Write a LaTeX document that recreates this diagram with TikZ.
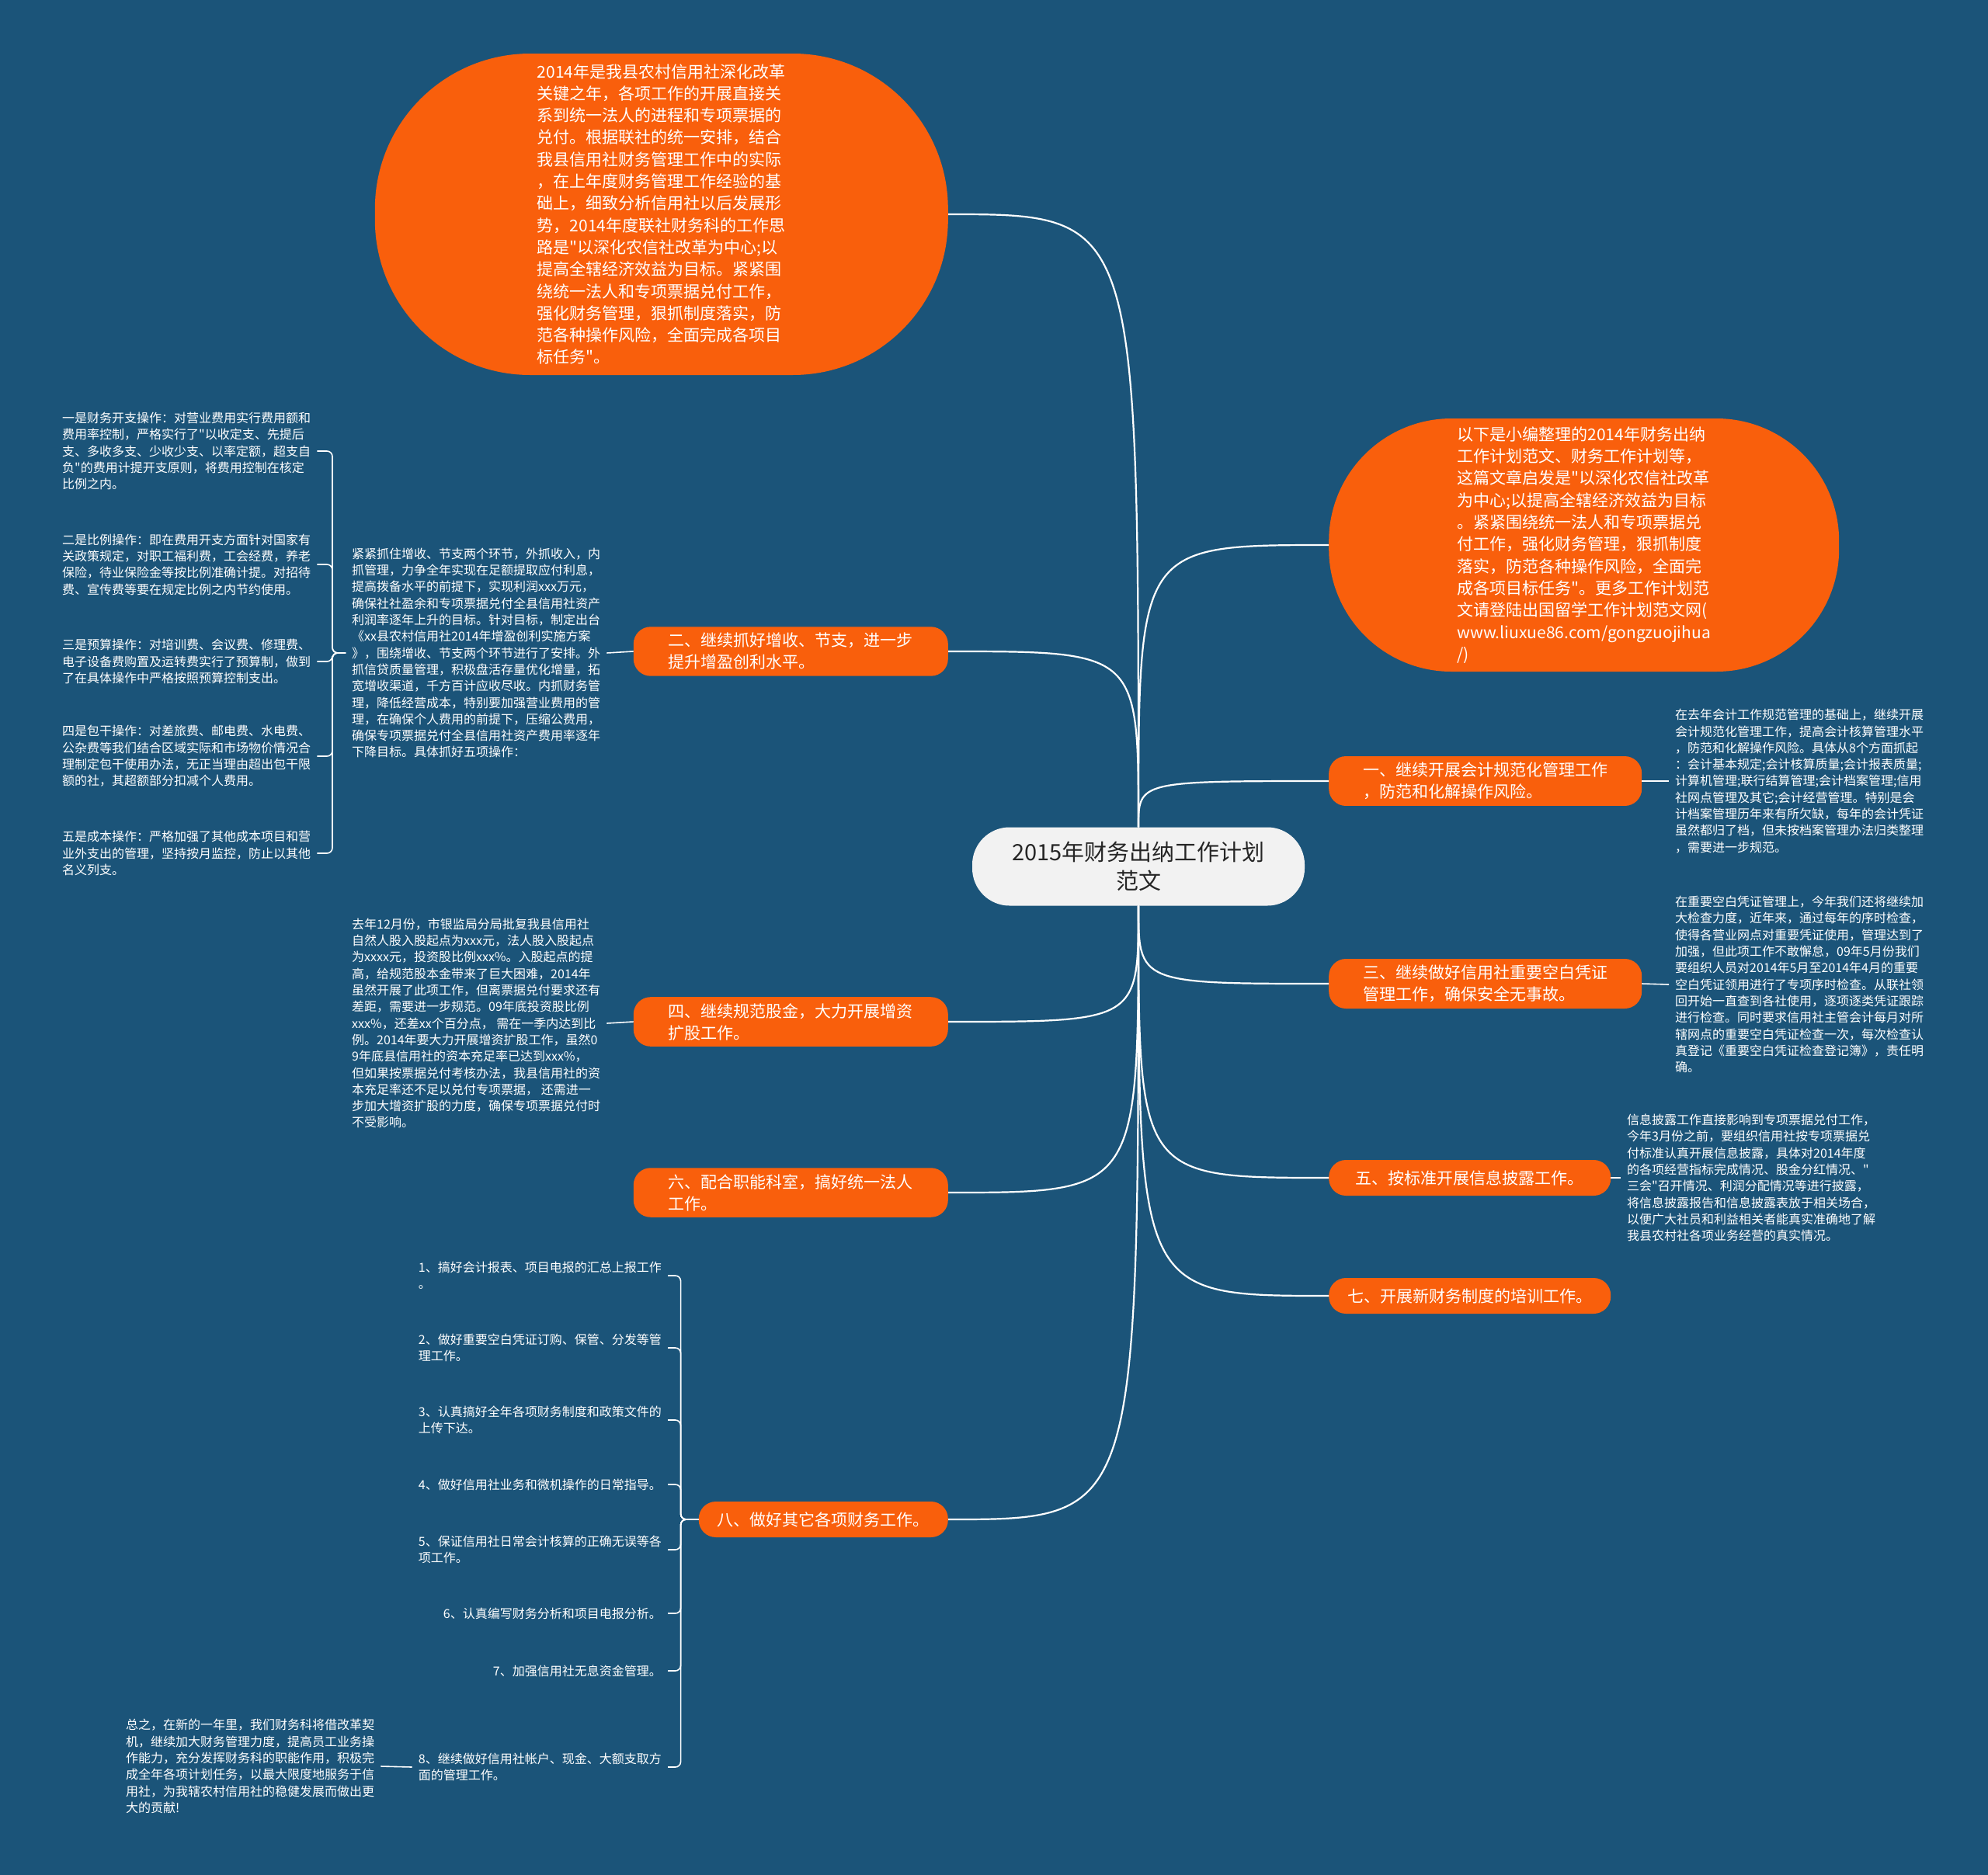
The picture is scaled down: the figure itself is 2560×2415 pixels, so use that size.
\documentclass[tikz,border=0pt]{standalone}
\usepackage{fontspec}
\setmainfont{Noto Sans CJK SC}[Ligatures=TeXOff]
\usepackage{tikz}
\usetikzlibrary{calc}
\usepackage{xcolor}

\definecolor{fondo}{HTML}{1B5479}
\definecolor{naranja}{HTML}{F95F0C}
\definecolor{gris}{HTML}{F2F2F2}

\tikzset{
  raiz/.style={fill=gris, text=black!85, rounded corners=48pt, align=center,
    minimum width=428pt, minimum height=101pt, font=\fontsize{29pt}{37pt}\selectfont},
  globo/.style={fill=naranja, text=white, align=left, font=\fontsize{21pt}{28.3pt}\selectfont},
  ramo/.style={fill=naranja, text=white, rounded corners=22pt, align=left, inner xsep=24pt,
    inner ysep=8pt, minimum height=46pt, font=\fontsize{21pt}{28pt}\selectfont},
  hojatexto/.style={text=white, align=left, inner xsep=8pt, inner ysep=3pt,
    font=\fontsize{16pt}{21.3pt}\selectfont},
  enlace/.style={draw=white, line width=2.2pt},
  hoja/.style={draw=white, line width=1.6pt},
  llave/.style={draw=white, line width=1.6pt, rounded corners=7pt}
}

\begin{document}
\begin{tikzpicture}[x=1pt,y=-1pt]
  \useasboundingbox (0,0) rectangle (2560,2415);
  \fill[fondo] (0,0) rectangle (2560,2415);

  % Nodo central
  \node[raiz] (root) at (1466,1116) {2015年财务出纳工作计划\\范文};

  % Globos grandes
  \node[globo, minimum width=738pt, minimum height=414pt, rounded corners=200pt, anchor=east] (top) at (1221,276)
    {2014年是我县农村信用社深化改革\\关键之年，各项工作的开展直接关\\系到统一法人的进程和专项票据的\\兑付。根据联社的统一安排，结合\\我县信用社财务管理工作中的实际\\，在上年度财务管理工作经验的基\\础上，细致分析信用社以后发展形\\势，2014年度联社财务科的工作思\\路是"以深化农信社改革为中心;以\\提高全辖经济效益为目标。紧紧围\\绕统一法人和专项票据兑付工作，\\强化财务管理，狠抓制度落实，防\\范各种操作风险，全面完成各项目\\标任务"。};
  \node[globo, minimum width=657pt, minimum height=326pt, rounded corners=158pt, anchor=west] (intro) at (1711,702)
    {以下是小编整理的2014年财务出纳\\工作计划范文、财务工作计划等，\\这篇文章启发是"以深化农信社改革\\为中心;以提高全辖经济效益为目标\\。紧紧围绕统一法人和专项票据兑\\付工作，强化财务管理，狠抓制度\\落实，防范各种操作风险，全面完\\成各项目标任务"。更多工作计划范\\文请登陆出国留学工作计划范文网(\\www.liuxue86.com/gongzuojihua\\/)};

  % Ramas izquierda
  \node[ramo, minimum width=405pt, anchor=east] (b2) at (1221,839) {二、继续抓好增收、节支，进一步\\提升增盈创利水平。};
  \node[ramo, minimum width=405pt, anchor=east] (b4) at (1221,1316) {四、继续规范股金，大力开展增资\\扩股工作。};
  \node[ramo, minimum width=405pt, anchor=east] (b6) at (1221,1536) {六、配合职能科室，搞好统一法人\\工作。};
  \node[ramo, anchor=east] (b8) at (1221,1957) {八、做好其它各项财务工作。};

  % Ramas derecha
  \node[ramo, minimum width=403pt, anchor=west] (b1) at (1711,1006) {一、继续开展会计规范化管理工作\\，防范和化解操作风险。};
  \node[ramo, minimum width=403pt, anchor=west] (b3) at (1711,1267) {三、继续做好信用社重要空白凭证\\管理工作，确保安全无事故。};
  \node[ramo, minimum width=363pt, anchor=west] (b5) at (1711,1517) {五、按标准开展信息披露工作。};
  \node[ramo, anchor=west] (b7) at (1711,1669) {七、开展新财务制度的培训工作。};

  % Textos de la rama dos
  \node[hojatexto, anchor=west] (jin) at (445,841)
    {紧紧抓住增收、节支两个环节，外抓收入，内\\抓管理，力争全年实现在足额提取应付利息，\\提高拨备水平的前提下，实现利润xxx万元，\\确保社社盈余和专项票据兑付全县信用社资产\\利润率逐年上升的目标。针对目标，制定出台\\《xx县农村信用社2014年增盈创利实施方案\\》，围绕增收、节支两个环节进行了安排。外\\抓信贷质量管理，积极盘活存量优化增量，拓\\宽增收渠道，千方百计应收尽收。内抓财务管\\理，降低经营成本，特别要加强营业费用的管\\理，在确保个人费用的前提下，压缩公费用，\\确保专项票据兑付全县信用社资产费用率逐年\\下降目标。具体抓好五项操作：};
  \foreach \i/\y/\txt in {
      1/581/{一是财务开支操作：对营业费用实行费用额和\\费用率控制，严格实行了"以收定支、先提后\\支、多收多支、少收少支、以率定额，超支自\\负"的费用计提开支原则，将费用控制在核定\\比例之内。},
      2/727/{二是比例操作：即在费用开支方面针对国家有\\关政策规定，对职工福利费，工会经费，养老\\保险，待业保险金等按比例准确计提。对招待\\费、宣传费等要在规定比例之内节约使用。},
      3/852/{三是预算操作：对培训费、会议费、修理费、\\电子设备费购置及运转费实行了预算制，做到\\了在具体操作中严格按照预算控制支出。},
      4/974/{四是包干操作：对差旅费、邮电费、水电费、\\公杂费等我们结合区域实际和市场物价情况合\\理制定包干使用办法，无正当理由超出包干限\\额的社，其超额部分扣减个人费用。},
      5/1099/{五是成本操作：严格加强了其他成本项目和营\\业外支出的管理，坚持按月监控，防止以其他\\名义列支。}}
    \node[hojatexto, anchor=west] (p\i) at (72,\y) {\txt};

  % Texto de la rama cuatro
  \node[hojatexto, anchor=west] (qu) at (445,1318)
    {去年12月份，市银监局分局批复我县信用社\\自然人股入股起点为xxx元，法人股入股起点\\为xxxx元，投资股比例xxx\%。入股起点的提\\高，给规范股本金带来了巨大困难，2014年\\虽然开展了此项工作，但离票据兑付要求还有\\差距，需要进一步规范。09年底投资股比例\\xxx\%，还差xx个百分点， 需在一季内达到比\\例。2014年要大力开展增资扩股工作，虽然0\\9年底县信用社的资本充足率已达到xxx\%，\\但如果按票据兑付考核办法，我县信用社的资\\本充足率还不足以兑付专项票据， 还需进一\\步加大增资扩股的力度，确保专项票据兑付时\\不受影响。};

  % Lista de la rama ocho
  \foreach \i/\y/\txt in {
      1/1643/{1、搞好会计报表、项目电报的汇总上报工作\\。},
      2/1736/{2、做好重要空白凭证订购、保管、分发等管\\理工作。},
      3/1829/{3、认真搞好全年各项财务制度和政策文件的\\上传下达。},
      4/1912/{4、做好信用社业务和微机操作的日常指导。},
      5/1996/{5、保证信用社日常会计核算的正确无误等各\\项工作。},
      6/2078/{6、认真编写财务分析和项目电报分析。},
      7/2152/{7、加强信用社无息资金管理。},
      8/2276/{8、继续做好信用社帐户、现金、大额支取方\\面的管理工作。}}
    \node[hojatexto, anchor=east] (s\i) at (860,\y) {\txt};
  \node[hojatexto, anchor=west] (zong) at (154,2275)
    {总之，在新的一年里，我们财务科将借改革契\\机，继续加大财务管理力度，提高员工业务操\\作能力，充分发挥财务科的职能作用，积极完\\成全年各项计划任务，以最大限度地服务于信\\用社，为我辖农村信用社的稳健发展而做出更\\大的贡献!};

  % Textos de la derecha
  \node[hojatexto, anchor=west] (r1) at (2149,1006)
    {在去年会计工作规范管理的基础上，继续开展\\会计规范化管理工作，提高会计核算管理水平\\，防范和化解操作风险。具体从8个方面抓起\\：会计基本规定;会计核算质量;会计报表质量;\\计算机管理;联行结算管理;会计档案管理;信用\\社网点管理及其它;会计经营管理。特别是会\\计档案管理历年来有所欠缺，每年的会计凭证\\虽然都归了档，但未按档案管理办法归类整理\\，需要进一步规范。};
  \node[hojatexto, anchor=west] (r3) at (2149,1268)
    {在重要空白凭证管理上，今年我们还将继续加\\大检查力度，近年来，通过每年的序时检查，\\使得各营业网点对重要凭证使用，管理达到了\\加强，但此项工作不敢懈怠，09年5月份我们\\要组织人员对2014年5月至2014年4月的重要\\空白凭证领用进行了专项序时检查。从联社领\\回开始一直查到各社使用，逐项逐类凭证跟踪\\进行检查。同时要求信用社主管会计每月对所\\辖网点的重要空白凭证检查一次，每次检查认\\真登记《重要空白凭证检查登记簿》，责任明\\确。};
  \node[hojatexto, anchor=west] (r5) at (2087,1517)
    {信息披露工作直接影响到专项票据兑付工作，\\今年3月份之前，要组织信用社按专项票据兑\\付标准认真开展信息披露，具体对2014年度\\的各项经营指标完成情况、股金分红情况、"\\三会"召开情况、利润分配情况等进行披露，\\将信息披露报告和信息披露表放于相关场合，\\以便广大社员和利益相关者能真实准确地了解\\我县农村社各项业务经营的真实情况。};

  % Conexiones desde el centro
  \foreach \n/\a in {top/east, b2/east, intro/west, b1/west}
    \draw[enlace] (root.north) .. controls (root.north |- \n.\a) .. (\n.\a);
  \foreach \n/\a in {b4/east, b6/east, b8/east, b3/west, b5/west, b7/west}
    \draw[enlace] (root.south) .. controls (root.south |- \n.\a) .. (\n.\a);

  % Conexiones a los textos
  \draw[hoja] (b2.west) -- (jin.east);
  \draw[hoja] (b4.west) -- (qu.east);
  \draw[hoja] (b1.east) -- (r1.west);
  \draw[hoja] (b3.east) -- (r3.west);
  \draw[hoja] (b5.east) -- (r5.west);
  \draw[hoja] (s8.west) -- (zong.east);
  \foreach \i in {1,...,5}
    \draw[llave] (jin.west) -- ++(-17,0) |- (p\i.east);
  \foreach \i in {1,...,8}
    \draw[llave] (b8.west) -- ++(-23,0) |- (s\i.east);
\end{tikzpicture}
\end{document}
